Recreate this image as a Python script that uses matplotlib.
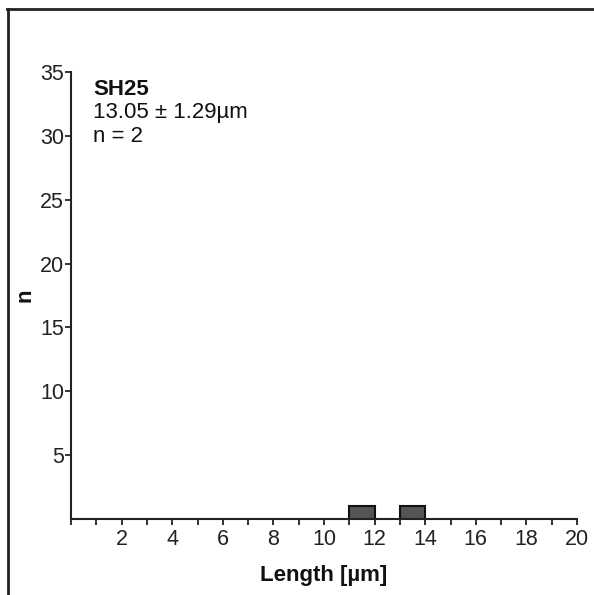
import matplotlib
matplotlib.use("Agg")
import matplotlib.pyplot as plt
from matplotlib.lines import Line2D
from matplotlib.ticker import MultipleLocator

plt.rcParams['font.family'] = ['Liberation Sans', 'DejaVu Sans']

bin_left = [11, 13]
counts = [1, 1]
bin_width = 1
title = "SH25"
stats = "13.05 ± 1.29µm"
n_text = "n = 2"
xticks = [2, 4, 6, 8, 10, 12, 14, 16, 18, 20]
yticks = [5, 10, 15, 20, 25, 30, 35]

fig = plt.figure(figsize=(5.94, 5.95), dpi=100)
ax = fig.add_axes([71/594, 1-519/595, 506/594, (519-72)/595])

ax.bar(bin_left, counts, width=bin_width, align='edge', color='#555555',
       edgecolor='#111111', linewidth=1.5)

ax.set_xlim(0, 20)
ax.set_ylim(0, 35)
ax.set_xticks(xticks)
ax.set_yticks(yticks)
ax.xaxis.set_minor_locator(MultipleLocator(1))
for s in ['top', 'right']:
    ax.spines[s].set_visible(False)
for s in ['left', 'bottom']:
    ax.spines[s].set_linewidth(1.5)
    ax.spines[s].set_color('#222222')
ax.tick_params(axis='x', which='both', direction='out', length=4, width=1.3,
               labelsize=15.5, pad=3, colors='#222222')
ax.tick_params(axis='y', which='major', direction='out', length=4, width=1.3,
               labelsize=15.5, pad=1, colors='#222222')
ax.set_xlabel("Length [µm]", fontsize=16, fontweight='bold', color='#111111')
ax.set_ylabel("n", fontsize=16, fontweight='bold', color='#111111')
ax.xaxis.set_label_coords(0.5, -0.103)
ax.yaxis.set_label_coords(-0.07, 0.5)

ax.text(0.0435, 0.9485, title, transform=ax.transAxes, fontsize=16, fontweight='bold',
        va='baseline', ha='left', color='#111111')
ax.text(0.0435, 0.8971, stats, transform=ax.transAxes, fontsize=16,
        va='baseline', ha='left', color='#111111')
ax.text(0.0435, 0.8434, n_text, transform=ax.transAxes, fontsize=16,
        va='baseline', ha='left', color='#111111')

# outer frame lines (top and left)
fig.add_artist(Line2D([7/594, 1], [1-8.5/595, 1-8.5/595], transform=fig.transFigure,
                      color='#222222', linewidth=2))
fig.add_artist(Line2D([7.5/594, 7.5/594], [0, 1-8.5/595], transform=fig.transFigure,
                      color='#222222', linewidth=2))

fig.savefig("out.png", dpi=100)
